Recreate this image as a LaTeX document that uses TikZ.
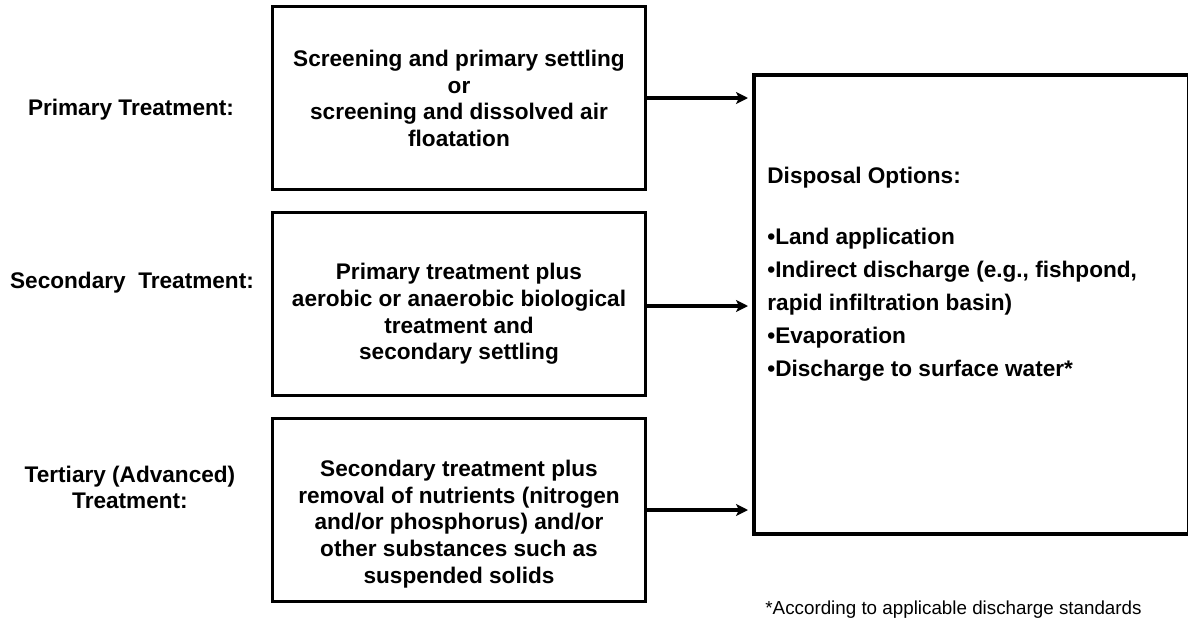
\documentclass[tikz,border=0pt]{standalone}
\usepackage{fontspec}
\setmainfont{Liberation Sans}
\usetikzlibrary{arrows.meta}

\begin{document}
\begin{tikzpicture}[x=0.5pt,y=-0.5pt,
  tbox/.style={rectangle,draw=black,line width=1.5pt,minimum width=186.5pt,minimum height=91.5pt,inner sep=0pt},
  btext/.style={align=center,font=\fontsize{11.3}{13.4}\selectfont\bfseries,inner sep=0pt},
  arr/.style={-{Stealth[length=6pt,width=6pt,inset=1.5pt]},line width=1.6pt,shorten >=2pt}]
  \useasboundingbox (0,0) rectangle (1188,621);

  \node[btext] (lprim) at (131,110){Primary Treatment:};
  \node[btext] (lsec) at (132,283){Secondary\ \ Treatment:};
  \node[btext] (lter) at (130,487.5){Tertiary (Advanced)\\Treatment:};

  \node[tbox] (prim) at (459,98){};
  \node[btext] (primtxt) at (459,98.5){Screening and primary settling\\or\\screening and dissolved air\\floatation};
  \node[tbox] (sec) at (459,303.5){};
  \node[btext] (sectxt) at (459,314){Primary treatment plus\\aerobic or anaerobic biological\\treatment and\\secondary settling};
  \node[tbox] (ter) at (459,510){};
  \node[btext] (tertxt) at (459,524){Secondary treatment plus\\removal of nutrients (nitrogen\\and/or phosphorus) and/or\\other substances such as\\suspended solids};

  \node[rectangle,draw=black,line width=2pt,minimum width=217.5pt,minimum height=229.5pt,inner sep=0pt] (disp) at (971.5,304.5){};
  \node[btext,align=left,anchor=west,font=\fontsize{11.3}{16.5}\selectfont\bfseries] (opts) at (767,274){Disposal Options:\\[14pt]
    \textbullet Land application\\
    \textbullet Indirect discharge (e.g., fishpond,\\
    rapid infiltration basin)\\
    \textbullet Evaporation\\
    \textbullet Discharge to surface water*};

  \draw[arr] (prim.east) -- (prim.east -| disp.west);
  \draw[arr] ([yshift=-1.25pt]sec.east) -- ([yshift=-1.25pt]sec.east -| disp.west);
  \draw[arr] (ter.east) -- (ter.east -| disp.west);

  \node[anchor=west,inner sep=0pt,font=\fontsize{9.4}{11}\selectfont] (note) at (765,610){*According to applicable discharge standards};
\end{tikzpicture}
\end{document}
